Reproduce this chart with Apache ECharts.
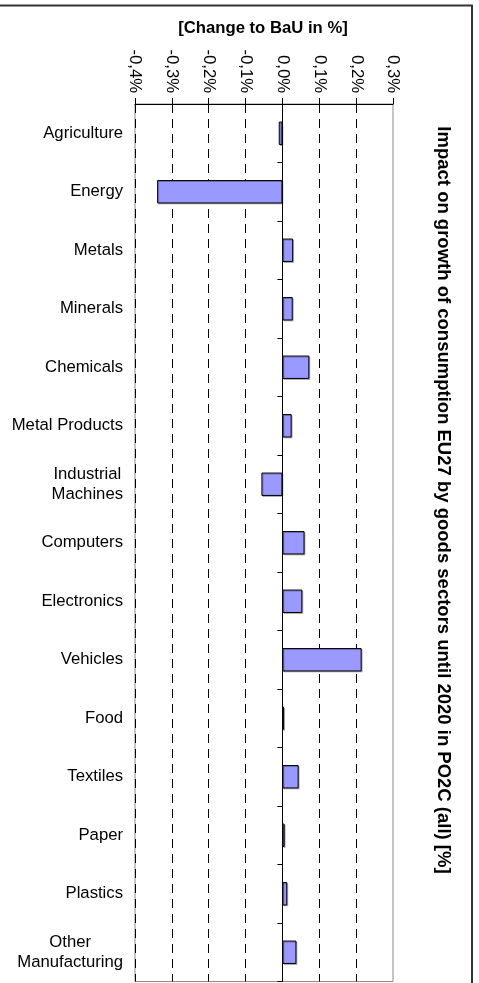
<!DOCTYPE html>
<html>
<head>
<meta charset="utf-8">
<script src="https://cdn.jsdelivr.net/npm/echarts@6/dist/echarts.min.js"></script>
<style>
html,body{margin:0;padding:0;background:#fff;}
#chart{width:479px;height:983px;}
</style>
</head>
<body>
<div id="chart"></div>
<script>
const categories = ['Agriculture','Energy','Metals','Minerals','Chemicals','Metal Products','Industrial\nMachines','Computers','Electronics','Vehicles','Food','Textiles','Paper','Plastics','Other\nManufacturing'];
const values = [-0.01,-0.34,0.029,0.028,0.073,0.025,-0.057,0.06,0.054,0.215,0.004,0.044,0.006,0.013,0.038];
const tickLabels = ['-0,4%','-0,3%','-0,2%','-0,1%','0,0%','0,1%','0,2%','0,3%'];
const axisTitle = '[Change to BaU in %]';
const chartTitle = 'Impact on growth of consumption EU27 by goods sectors until 2020 in PO2C (all) [%]';

const FONT = 'Liberation Sans, Arial, sans-serif';
const FS = 16.7;
const chart = echarts.init(document.getElementById('chart'), null, {renderer:'canvas'});
const xMin = -0.4, xStep = 0.1;
chart.setOption({
  animation:false,
  textStyle:{fontFamily:FONT},
  grid:{left:135, top:104, width:258, height:877.5, containLabel:false, outerBoundsMode:'none',
    show:true, borderColor:'#8c8c8c', borderWidth:1, backgroundColor:'transparent'},
  xAxis:{
    type:'value', position:'top', min:xMin, max:0.3, interval:xStep,
    axisLine:{show:true, onZero:false, lineStyle:{color:'#000', width:1}},
    axisTick:{show:true, length:6, lineStyle:{color:'#000'}},
    axisLabel:{rotate:90, margin:11, color:'#000', fontSize:FS, fontFamily:FONT,
      formatter:function(v){ const i = Math.round((v - xMin)/xStep); return tickLabels[i] || ''; }},
    splitLine:{show:true, showMaxLine:false, lineStyle:{color:'#000', width:1, type:[9,6]}}
  },
  yAxis:[{
    type:'category', inverse:true, data:categories, position:'left',
    axisLine:{show:false, onZero:false},
    axisTick:{show:false},
    axisLabel:{margin:12, color:'#000', fontSize:FS, fontFamily:FONT, interval:0,
      formatter:function(v){
        if (v.indexOf('\n') >= 0) return v.split('\n').map(s => '{c|' + s + '}').join('\n');
        return v;
      },
      rich:{c:{align:'center', fontSize:FS, lineHeight:20, color:'#000', fontFamily:FONT}}
    },
    splitLine:{show:false}
  },{
    type:'category', inverse:true, data:categories, position:'left',
    axisLine:{show:true, onZero:true, lineStyle:{color:'#000', width:1}},
    axisTick:{show:true, length:5, alignWithLabel:false, lineStyle:{color:'#000'}},
    axisLabel:{show:false},
    splitLine:{show:false}
  }],
  series:[{
    type:'bar', data:values, barWidth:'40%', yAxisIndex:0,
    itemStyle:{color:'#9999FF', borderColor:'#000', borderWidth:1,
      shadowColor:'rgba(0,0,0,0.25)', shadowOffsetX:1, shadowOffsetY:1, shadowBlur:0}
  }],
  graphic:[
    {type:'rect', shape:{x:-5, y:5.5, width:477, height:1000}, style:{fill:'none', stroke:'#333', lineWidth:2}, silent:true},
    {type:'text', x:263, y:28, style:{text:axisTitle, font:'bold ' + FS + 'px ' + FONT, fill:'#000', textAlign:'center', textVerticalAlign:'middle', align:'center', verticalAlign:'middle'}},
    {type:'text', x:443, y:500, rotation:-Math.PI/2, style:{text:chartTitle, font:'bold 18.5px ' + FONT, fill:'#000', textAlign:'center', textVerticalAlign:'middle', align:'center', verticalAlign:'middle'}}
  ]
});
</script>
</body>
</html>
